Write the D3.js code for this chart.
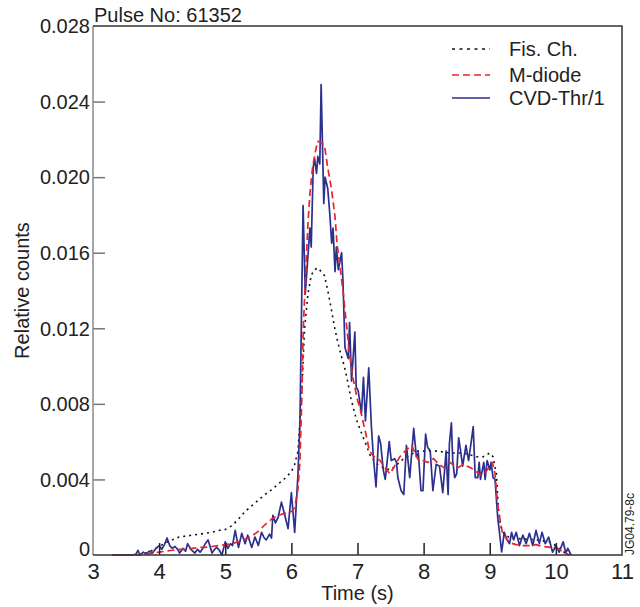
<!DOCTYPE html>
<html>
<head>
<meta charset="utf-8">
<script src="https://cdn.jsdelivr.net/npm/d3@7"></script>
<style>
  html, body { margin: 0; padding: 0; background: #fff; }
  svg { display: block; font-family: "Liberation Sans", Arial, sans-serif; }
</style>
</head>
<body>
<svg id="chart"></svg>
<script>
// counts are in units of 1e-3 (relative counts), time in seconds
const fisChamber = [
  [3.7,0],[3.8,0.1],[3.9,0.25],[4.0,0.45],[4.1,0.65],[4.2,0.8],[4.3,0.95],[4.4,1.0],[4.5,1.05],
  [4.6,1.1],[4.7,1.15],[4.8,1.2],[4.9,1.3],[5.0,1.35],[5.1,1.55],[5.2,1.9],[5.3,2.3],[5.4,2.6],
  [5.5,2.9],[5.6,3.2],[5.7,3.45],[5.8,3.75],[5.9,4.05],[6.0,4.4],[6.05,4.8],[6.1,5.5],[6.13,7.1],
  [6.16,8.9],[6.2,12.0],[6.25,13.8],[6.3,14.8],[6.35,15.1],[6.4,15.2],[6.45,15.0],[6.5,14.8],
  [6.55,14.0],[6.6,13.1],[6.65,12.1],[6.7,11.3],[6.75,10.6],[6.8,10.0],[6.85,9.2],[6.9,8.3],
  [6.95,7.6],[7.0,7.0],[7.1,6.1],[7.2,5.2],[7.3,4.8],[7.4,4.6],[7.5,4.5],[7.6,4.8],[7.7,5.1],
  [7.8,5.3],[7.9,5.5],[8.0,5.5],[8.2,5.5],[8.4,5.4],[8.6,5.4],[8.8,5.2],[8.9,5.2],[9.0,5.4],
  [9.05,5.2],[9.1,4.3],[9.13,2.5],[9.16,1.6],[9.2,1.2],[9.3,0.9],[9.5,0.85],[9.7,0.8],[9.9,0.7],
  [10.0,0.5],[10.1,0.2],[10.2,0]
];

const mDiode = [
  [3.3,0],[3.7,0],[3.8,0.05],[3.9,0.1],[4.0,0.15],[4.1,0.2],[4.2,0.25],[4.3,0.3],[4.4,0.3],
  [4.5,0.35],[4.6,0.4],[4.7,0.4],[4.8,0.45],[4.9,0.5],[5.0,0.55],[5.1,0.6],[5.2,0.7],[5.3,0.85],
  [5.4,1.0],[5.5,1.25],[5.6,1.6],[5.7,1.9],[5.8,2.1],[5.9,2.2],[6.0,2.3],[6.05,2.5],[6.1,3.5],
  [6.13,5.0],[6.16,8.6],[6.18,12.0],[6.2,13.6],[6.22,15.2],[6.25,17.5],[6.28,19.1],[6.32,20.5],
  [6.36,21.3],[6.4,21.9],[6.45,21.8],[6.5,21.7],[6.55,20.5],[6.61,19.3],[6.66,17.9],[6.69,16.5],
  [6.73,15.4],[6.78,14.0],[6.83,12.3],[6.88,10.6],[6.93,9.4],[7.0,8.2],[7.05,7.6],[7.1,6.8],
  [7.14,6.2],[7.18,5.5],[7.25,5.2],[7.34,5.0],[7.42,4.6],[7.49,4.3],[7.56,4.7],[7.64,5.2],
  [7.72,5.5],[7.82,5.8],[7.88,5.3],[7.94,4.9],[8.0,5.0],[8.06,4.9],[8.15,5.1],[8.23,4.8],
  [8.32,4.6],[8.4,4.9],[8.51,4.6],[8.6,4.8],[8.72,4.6],[8.8,4.4],[8.89,4.2],[8.96,4.5],[9.04,4.9],
  [9.08,4.3],[9.1,3.4],[9.13,2.4],[9.19,1.2],[9.3,0.65],[9.4,0.55],[9.5,0.5],[9.6,0.5],[9.7,0.55],
  [9.8,0.45],[9.95,0.4],[10.05,0.3],[10.15,0.1],[10.2,0]
];

const cvdThr = [
  [3.29,0],[3.4,0],[3.5,0],[3.6,0],[3.65,0.05],[3.68,0.25],[3.71,0],[3.76,0.15],[3.8,0.05],
  [3.85,0.2],[3.9,0.1],[3.95,0.35],[4.0,0.5],[4.04,0.3],[4.08,0.55],[4.12,0.9],[4.16,0.5],
  [4.2,0.35],[4.24,0.45],[4.28,0.3],[4.31,0.1],[4.36,0.35],[4.4,0.2],[4.43,0.6],[4.48,0.3],
  [4.54,0.1],[4.58,0.3],[4.62,0.15],[4.66,0.35],[4.69,0.55],[4.74,0.8],[4.8,0.1],[4.84,0.3],
  [4.87,0.4],[4.91,0.25],[4.95,0],[5.0,0.7],[5.04,0.35],[5.08,0.6],[5.11,0.5],[5.15,1.3],
  [5.2,0.4],[5.25,1.15],[5.3,0.6],[5.34,1.05],[5.4,0.4],[5.45,0.95],[5.5,0.5],[5.55,1.2],
  [5.59,0.9],[5.62,0.8],[5.67,1.1],[5.7,0.9],[5.72,2.1],[5.76,1.7],[5.8,2.0],[5.85,2.8],
  [5.9,2.1],[5.95,1.4],[6.0,3.3],[6.05,1.2],[6.1,4.3],[6.13,7.1],[6.15,12.0],[6.177,18.5],
  [6.21,13.8],[6.28,17.3],[6.3,16.3],[6.33,20.5],[6.35,21.0],[6.38,20.2],[6.4,21.1],[6.43,20.7],
  [6.45,24.9],[6.49,18.6],[6.51,20.0],[6.55,19.4],[6.58,18.1],[6.61,16.5],[6.63,17.3],[6.66,15.0],
  [6.68,16.3],[6.71,15.1],[6.76,16.0],[6.78,14.5],[6.81,11.0],[6.86,10.4],[6.88,12.3],[6.91,9.2],
  [6.96,11.8],[6.98,8.9],[7.01,8.7],[7.06,7.5],[7.09,9.4],[7.12,7.1],[7.17,9.9],[7.21,6.8],
  [7.24,5.2],[7.28,3.6],[7.32,6.3],[7.35,5.9],[7.39,4.5],[7.42,4.0],[7.48,6.0],[7.51,5.0],
  [7.56,5.1],[7.59,4.9],[7.61,4.1],[7.66,3.4],[7.7,3.2],[7.74,5.8],[7.79,4.1],[7.85,6.7],
  [7.89,5.2],[7.92,5.4],[7.96,3.4],[7.99,3.4],[8.03,6.4],[8.06,5.7],[8.1,5.5],[8.14,3.4],
  [8.19,4.8],[8.24,4.7],[8.29,3.3],[8.34,5.5],[8.37,3.2],[8.39,5.9],[8.42,7.0],[8.44,5.0],
  [8.47,4.1],[8.5,4.3],[8.53,6.2],[8.56,5.5],[8.59,4.7],[8.64,5.8],[8.68,5.0],[8.72,6.0],
  [8.75,6.8],[8.78,4.1],[8.82,4.1],[8.84,4.9],[8.86,4.0],[8.91,4.9],[8.93,4.0],[8.96,5.0],
  [9.0,4.5],[9.02,4.9],[9.05,4.1],[9.08,4.0],[9.12,2.0],[9.15,1.1],[9.18,0.16],[9.22,1.2],
  [9.26,0.8],[9.3,0.6],[9.33,1.2],[9.36,0.8],[9.4,1.2],[9.45,0.5],[9.5,1.05],[9.55,0.6],
  [9.6,1.15],[9.65,0.5],[9.7,1.3],[9.75,0.6],[9.79,1.2],[9.84,0.6],[9.89,0.95],[9.95,0.15],
  [10.0,0.5],[10.05,0.15],[10.11,0.7],[10.15,0.1],[10.18,0.35],[10.23,0]
];

const xTicks = [3, 4, 5, 6, 7, 8, 9, 10, 11];
const yTicks = [0, 4, 8, 12, 16, 20, 24, 28];
const legendNames = ["Fis. Ch.", "M-diode", "CVD-Thr/1"];

const width = 640, height = 607;
const margin = { top: 26, right: 18, bottom: 52, left: 93 };
const innerW = width - margin.left - margin.right;
const innerH = height - margin.top - margin.bottom;

const svg = d3.select("#chart").attr("width", width).attr("height", height);
const g = svg.append("g").attr("transform", `translate(${margin.left},${margin.top})`);

const x = d3.scaleLinear().domain([3, 11]).range([0, innerW]);
const y = d3.scaleLinear().domain([0, 28]).range([innerH, 0]);

const styles = [
  { data: fisChamber, color: "#111", width: 1.6, dash: "2,4" },
  { data: mDiode, color: "#e8232a", width: 1.7, dash: "7,4" },
  { data: cvdThr, color: "#2b2f8e", width: 1.7, dash: null }
];

const line = d3.line().x(d => x(d[0])).y(d => y(d[1]));

// draw black, blue, then red on top
[0, 2, 1].forEach(i => {
  const s = styles[i];
  g.append("path")
    .datum(s.data)
    .attr("fill", "none")
    .attr("stroke", s.color)
    .attr("stroke-width", s.width)
    .attr("stroke-dasharray", s.dash)
    .attr("stroke-linejoin", "round")
    .attr("d", line);
});

// y axis
const yAxis = g.append("g")
  .call(d3.axisLeft(y).tickValues(yTicks).tickSizeInner(-12).tickSizeOuter(0).tickPadding(3)
    .tickFormat(d => d === 0 ? "0" : (d / 1000).toFixed(3)));
yAxis.select(".domain").remove();
yAxis.selectAll(".tick line")
  .attr("stroke", "#777").attr("stroke-width", 1.5)
  .attr("display", d => (d === 0 || d === 28) ? "none" : null);
yAxis.selectAll(".tick text")
  .attr("font-size", 20).attr("fill", "#222")
  .attr("dy", d => d === 0 ? "-0.0em" : "0.34em");

// x axis
const xAxis = g.append("g")
  .attr("transform", `translate(0,${innerH})`)
  .call(d3.axisBottom(x).tickValues(xTicks).tickSizeInner(-12).tickSizeOuter(0).tickPadding(3));
xAxis.select(".domain").remove();
xAxis.selectAll(".tick line")
  .attr("stroke", "#222").attr("stroke-width", 1.5)
  .attr("display", d => (d === 3 || d === 11) ? "none" : null);
xAxis.selectAll(".tick text")
  .attr("font-size", 22).attr("fill", "#222").attr("dy", "0.95em");

// frame
g.append("line").attr("x1", 0).attr("x2", 0).attr("y1", 0).attr("y2", innerH)
  .attr("stroke", "#888").attr("stroke-width", 1.5);
g.append("path")
  .attr("d", `M0,0H${innerW}V${innerH}H0`)
  .attr("fill", "none").attr("stroke", "#333").attr("stroke-width", 1.5);

// title & labels
svg.append("text").attr("x", 94).attr("y", 22).attr("font-size", 20).attr("fill", "#222")
  .text("Pulse No: 61352");
svg.append("text").attr("x", margin.left + x(7)).attr("y", 600)
  .attr("text-anchor", "middle").attr("font-size", 20).attr("fill", "#222").text("Time (s)");
svg.append("text")
  .attr("transform", `translate(29,${margin.top + y(14)}) rotate(-90)`)
  .attr("text-anchor", "middle").attr("font-size", 20).attr("fill", "#222").text("Relative counts");
svg.append("text")
  .attr("transform", `translate(634,555) rotate(-90)`)
  .attr("font-size", 12).attr("fill", "#222").text("JG04.79-8c");

// legend
const legend = svg.append("g").attr("transform", "translate(452,49)");
legendNames.forEach((name, i) => {
  const s = styles[i];
  const row = legend.append("g").attr("transform", `translate(0,${[0, 26, 49][i]})`);
  row.append("line").attr("x1", 0).attr("x2", 38)
    .attr("stroke", s.color).attr("stroke-width", s.width)
    .attr("stroke-dasharray", i === 0 ? "3,4.5" : s.dash);
  row.append("text").attr("x", 57).attr("y", 7).attr("font-size", 20).attr("fill", "#222").text(name);
});
</script>
</body>
</html>
